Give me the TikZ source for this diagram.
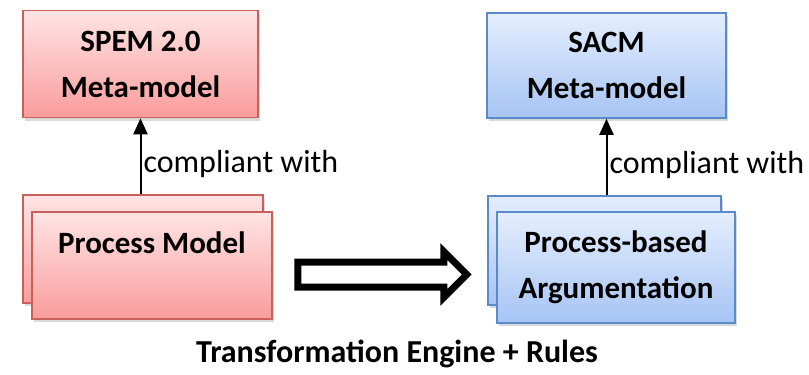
\documentclass[tikz,border=0pt]{standalone}
\usepackage{fontspec}
\setmainfont{Carlito}
\usetikzlibrary{arrows.meta}
\usetikzlibrary{shapes.arrows}
\usetikzlibrary{shadows}
\definecolor{redtop}{HTML}{FFE4E4}
\definecolor{redbot}{HTML}{FA9C9C}
\definecolor{redline}{HTML}{C9605C}
\definecolor{bluetop}{HTML}{E4EEFD}
\definecolor{bluebot}{HTML}{A6C4F4}
\definecolor{blueline}{HTML}{5A8AC8}

\begin{document}
\begin{tikzpicture}[x=1pt,y=-1pt,
  box/.style={draw,line width=1.5pt,rectangle,align=center,inner sep=0pt,
    font=\fontsize{31}{46}\selectfont\bfseries,
    drop shadow={shadow xshift=2pt,shadow yshift=-3pt,opacity=.3}},
  redbox/.style={box,draw=redline,top color=redtop,bottom color=redbot},
  bluebox/.style={box,draw=blueline,top color=bluetop,bottom color=bluebot},
  lbl/.style={font=\fontsize{32}{38}\selectfont,inner sep=2pt}]
\def\l{16pt}
\def\w{14pt}
\useasboundingbox (0,0) rectangle (809,375);
%\draw[help lines] (0,0) grid[step=50] (809,375);

% left side
\node [redbox, minimum width=235, minimum height=107, name=spem]     at (140.5,64)  {SPEM 2.0\\Meta-model};
\node [redbox, minimum width=240, minimum height=108, name=pmback]   at (143,249)   {};
\node [redbox, minimum width=240, minimum height=107, name=pm]       at (152,265.5) {Process Model\\~};
% right side
\node [bluebox, minimum width=239, minimum height=105, name=sacm]    at (606.5,65.5) {SACM\\Meta-model};
\node [bluebox, minimum width=233, minimum height=109, name=pbback]  at (604.5,250.5) {};
\node [bluebox, minimum width=238, minimum height=111, name=pb]      at (616,267.5) {Process-based\\Argumentation};

\draw [line width=2pt,-{Triangle[length=\l, width=\w]}](pmback.north -| spem.south) to node[lbl,right,pos=0.4]{compliant with} (spem.south);
\draw [line width=2pt,-{Triangle[length=\l, width=\w]}](pbback.north -| sacm.south) to node[lbl,right,pos=0.4]{compliant with} (sacm.south);

% transformation
\node [single arrow, draw=black, fill=white, line width=7pt, inner sep=9pt,
       minimum height=169, minimum width=39, single arrow head extend=10.5pt,
       name=trans] at (376,274.5) {};
\node [lbl, font=\fontsize{32}{38}\selectfont\bfseries, name=rules] at (397,354) {Transformation Engine + Rules};
\end{tikzpicture}
\end{document}
